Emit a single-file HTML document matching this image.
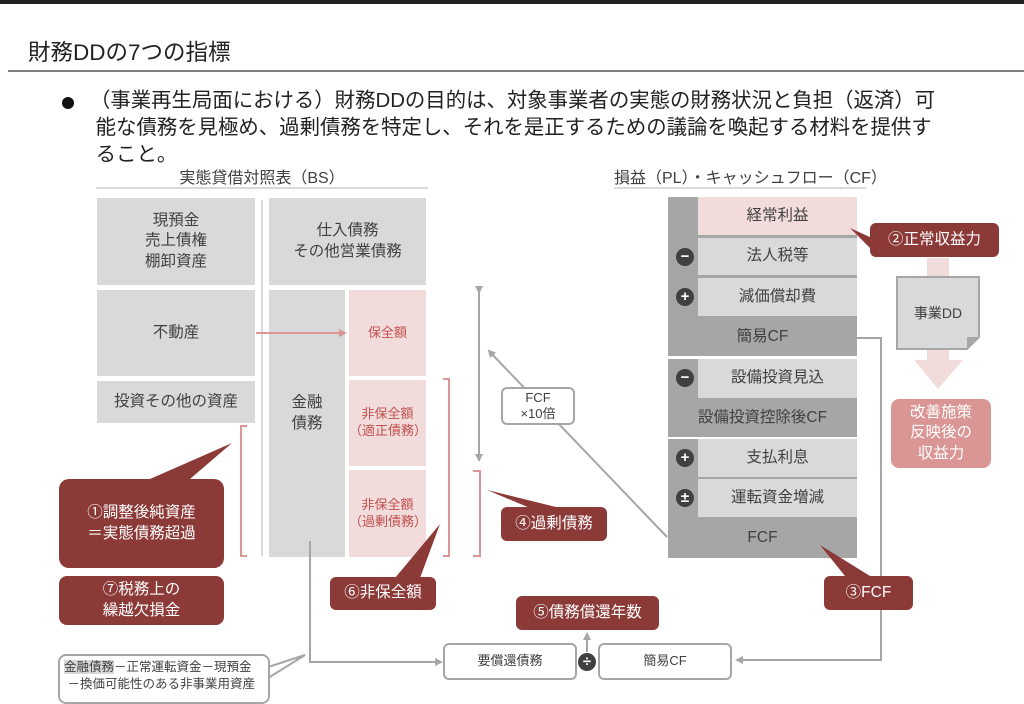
<!DOCTYPE html>
<html><head><meta charset="utf-8"><style>
*{margin:0;padding:0;box-sizing:border-box}
body{width:1024px;height:699px;position:relative;overflow:hidden;background:#fff;font-family:"Liberation Sans","Noto Sans CJK JP",sans-serif;color:#333}
.a{position:absolute;display:flex;align-items:center;justify-content:center;text-align:center;line-height:1.3}
.g{background:#d9d9d9;color:#404040;font-size:15.5px}
.d{background:#a6a6a6;color:#404040;font-size:15.5px}
.p{background:#f2dcdb;color:#c0504d;font-size:13px}
.r{background:#8c3a38;color:#fff;font-size:15.5px;border-radius:6px}
.w{background:#fff;border:2px solid #a6a6a6;border-radius:6px;color:#404040;font-size:13px}
.c{position:absolute;width:18px;height:18px;border-radius:50%;background:#404040;color:#fff;font-size:15px;font-weight:bold;line-height:18px;text-align:center}
</style></head><body>
<div style="position:absolute;left:0;top:0;width:1024px;height:4px;background:#222"></div>
<div style="position:absolute;left:28px;top:35px;font-size:22.5px;color:#222;white-space:nowrap">財務DDの7つの指標</div>
<div style="position:absolute;left:8px;top:70px;width:1016px;height:2px;background:#808080"></div>
<div style="position:absolute;left:62px;top:97px;width:12px;height:12px;border-radius:50%;background:#111"></div>
<div style="position:absolute;left:90px;top:88px;font-size:20.4px;line-height:27px;color:#222;white-space:nowrap">（事業再生局面における）財務DDの目的は、対象事業者の実態の財務状況と負担（返済）可<br>&nbsp;能な債務を見極め、過剰債務を特定し、それを是正するための議論を喚起する材料を提供す<br>&nbsp;ること。</div>
<div style="position:absolute;left:96px;top:164px;width:332px;text-align:center;font-size:16px;color:#404040">実態貸借対照表（BS）</div>
<div style="position:absolute;left:96px;top:187px;width:332px;height:2px;background:#d9d9d9"></div>
<div style="position:absolute;left:614px;top:164px;width:252px;text-align:center;font-size:16px;color:#404040;white-space:nowrap">損益（PL）・キャッシュフロー（CF）</div>
<div style="position:absolute;left:614px;top:187px;width:252px;height:2px;background:#d9d9d9"></div>

<div class="a g" style="left:97px;top:198px;width:158px;height:87px">現預金<br>売上債権<br>棚卸資産</div>
<div class="a g" style="left:97px;top:290px;width:158px;height:86px">不動産</div>
<div class="a g" style="left:97px;top:381px;width:158px;height:42px">投資その他の資産</div>
<div style="position:absolute;left:261px;top:200px;width:2px;height:356px;background:#d9d9d9"></div>
<div class="a g" style="left:269px;top:198px;width:157px;height:87px">仕入債務<br>その他営業債務</div>
<div class="a g" style="left:269px;top:290px;width:76px;height:267px;padding-bottom:20px">金融<br>債務</div>
<div class="a p" style="left:349px;top:290px;width:77px;height:86px">保全額</div>
<div class="a p" style="left:349px;top:380px;width:77px;height:86px">非保全額<br>（適正債務）</div>
<div class="a p" style="left:349px;top:470px;width:77px;height:87px">非保全額<br>（過剰債務）</div>

<!-- PL -->
<div class="a d" style="left:668px;top:197px;width:189px;height:159px;align-items:flex-end;padding-bottom:9px">簡易CF</div>
<div class="a p" style="left:698px;top:197px;width:159px;height:38px;color:#404040;font-size:15.5px">経常利益</div>
<div class="a g" style="left:698px;top:238px;width:159px;height:37px">法人税等</div>
<div class="a g" style="left:698px;top:278px;width:159px;height:38px">減価償却費</div>
<div class="a d" style="left:668px;top:359px;width:189px;height:78px;align-items:flex-end;padding-bottom:9px">設備投資控除後CF</div>
<div class="a g" style="left:698px;top:359px;width:159px;height:39px">設備投資見込</div>
<div class="a d" style="left:668px;top:439px;width:189px;height:119px;align-items:flex-end;padding-bottom:10px">FCF</div>
<div class="a g" style="left:698px;top:439px;width:159px;height:38px">支払利息</div>
<div class="a g" style="left:698px;top:479px;width:159px;height:38px">運転資金増減</div>
<div class="c" style="left:676px;top:248px">−</div>
<div class="c" style="left:676px;top:288px">+</div>
<div class="c" style="left:676px;top:369px">−</div>
<div class="c" style="left:676px;top:449px">+</div>
<div class="c" style="left:676px;top:489px">±</div>

<svg style="position:absolute;left:0;top:0" width="1024" height="699">
<defs>
<marker id="ag" markerWidth="8" markerHeight="8" refX="6" refY="4" orient="auto" markerUnits="userSpaceOnUse"><path d="M0,0 L8,4 L0,8 z" fill="#a6a6a6"/></marker>
<marker id="ap" markerWidth="8" markerHeight="8" refX="6" refY="4" orient="auto" markerUnits="userSpaceOnUse"><path d="M0,0 L8,4 L0,8 z" fill="#d99694"/></marker>
</defs>
<line x1="256" y1="333" x2="345" y2="333" stroke="#d99694" stroke-width="2" marker-end="url(#ap)"/>
<g fill="none" stroke="#d99694" stroke-width="2">
<path d="M247,426 H241 V556 H247"/>
<path d="M443,379 H449 V556 H443"/>
<path d="M473,471 H480 V556 H473"/>
</g>
<line x1="479" y1="292" x2="479" y2="460" stroke="#a6a6a6" stroke-width="2" marker-start="url(#ag)" marker-end="url(#ag)"/>
<line x1="667" y1="537" x2="489" y2="351" stroke="#a6a6a6" stroke-width="2" marker-end="url(#ag)"/>
<polyline points="857,338 881,338 881,660 737,660" fill="none" stroke="#a6a6a6" stroke-width="2" marker-end="url(#ag)"/>
<polyline points="310,541 310,662 441,662" fill="none" stroke="#a6a6a6" stroke-width="2" marker-end="url(#ag)"/>
<line x1="587" y1="652" x2="587" y2="634" stroke="#a6a6a6" stroke-width="2" marker-end="url(#ag)"/>
<rect x="927" y="258" width="22" height="40" fill="#f2dcdb"/>
<path d="M927,348 H949 V360 H963 L938,389 L914,360 H927 Z" fill="#f2dcdb"/>
<path d="M897,277 H979 V337 L967,349 H897 Z" fill="#d9d9d9" stroke="#a6a6a6" stroke-width="2"/>
<path d="M979,337 L967,337 L967,349 Z" fill="#a6a6a6"/>
<g fill="#8c3a38">
<polygon points="232,443 190,479 150,479"/>
<polygon points="440,524 395,578 420,578"/>
<polygon points="487,490 530,508 560,508"/>
<polygon points="850,228 872,238 872,250"/>
<polygon points="820,545 845,576 870,576"/>
</g>
<polygon points="305,655 265,668 265,680" fill="#fff" stroke="#a6a6a6" stroke-width="2"/>
</svg>
<div class="a" style="left:898px;top:293px;width:80px;height:40px;font-size:14px;color:#404040">事業DD</div>
<div class="a w" style="left:501px;top:387px;width:74px;height:38px;font-size:13px;line-height:1.25">FCF<br>×10倍</div>
<div class="a r" style="left:870px;top:223px;width:129px;height:34px">②正常収益力</div>
<div class="a" style="left:891px;top:399px;width:100px;height:69px;background:#d99694;color:#fff;border-radius:8px;font-size:15.5px">改善施策<br>反映後の<br>収益力</div>
<div class="a r" style="left:59px;top:479px;width:165px;height:89px;border-radius:10px">①調整後純資産<br>＝実態債務超過</div>
<div class="a r" style="left:59px;top:576px;width:165px;height:49px;border-radius:8px">⑦税務上の<br>繰越欠損金</div>
<div class="a r" style="left:330px;top:577px;width:106px;height:33px">⑥非保全額</div>
<div class="a r" style="left:501px;top:507px;width:106px;height:34px">④過剰債務</div>
<div class="a r" style="left:824px;top:576px;width:89px;height:34px">③FCF</div>
<div class="a r" style="left:516px;top:596px;width:143px;height:34px">⑤債務償還年数</div>
<div class="a w" style="left:443px;top:643px;width:134px;height:37px">要償還債務</div>
<div class="a w" style="left:598px;top:643px;width:134px;height:37px">簡易CF</div>
<div class="c" style="left:578px;top:653px">÷</div>
<div style="position:absolute;left:58px;top:654px;width:212px;height:50px;border:2px solid #a6a6a6;border-radius:8px;background:#fff;font-size:12.5px;line-height:17px;padding:3px 0 0 4px;color:#404040;white-space:nowrap"><span style="background:#d9d9d9">金融債務</span>－正常運転資金－現預金<br>&nbsp;－換価可能性のある非事業用資産</div>
</body></html>
